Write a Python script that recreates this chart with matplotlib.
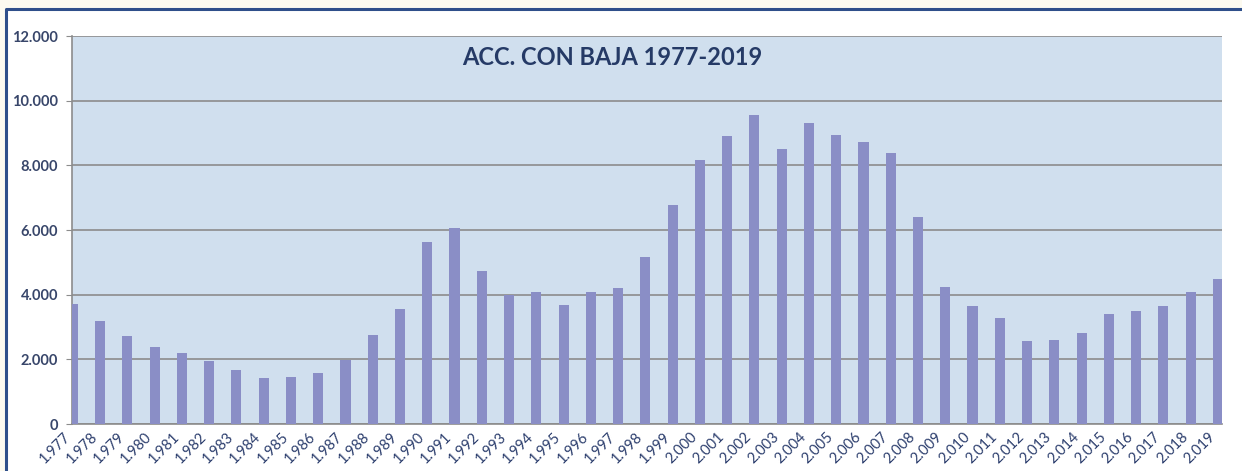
import numpy as np
import matplotlib.pyplot as plt
from matplotlib.patches import Rectangle
from matplotlib.lines import Line2D

plt.rcParams['font.family'] = ['Lato', 'DejaVu Sans']

years = np.arange(1977, 2020)
accidents = [3700, 3180, 2710, 2380, 2195, 1935, 1675, 1420, 1440, 1585,
             1965, 2740, 3545, 5635, 6070, 4730, 4000, 4070, 3690, 4070,
             4220, 5155, 6780, 8170, 8920, 9570, 8510, 9310, 8930, 8720,
             8380, 6400, 4240, 3660, 3280, 2560, 2600, 2810, 3415, 3490,
             3660, 4090, 4470]
year_labels = [f"{y // 1000}.{y % 1000:03d}" for y in years]
y_ticks = np.arange(0, 12001, 2000)
y_labels = ['0' if v == 0 else f"{v // 1000}.{v % 1000:03d}" for v in y_ticks]

fig = plt.figure(figsize=(12.42, 4.71), dpi=100, facecolor='#fcfaf0')
W, H = 1242, 471

# outer white panel with navy border on top and left
fig.patches.append(Rectangle((6 / W, -0.01), 1.0, 1.01 - 9 / H,
                             transform=fig.transFigure, facecolor='white',
                             edgecolor='none', zorder=-5))
fig.lines.append(Line2D([6 / W, 6 / W, 1.01], [-0.01, 1 - 9 / H, 1 - 9 / H],
                        transform=fig.transFigure, color='#2f4f8a',
                        linewidth=2.2, zorder=-4))

ax = fig.add_axes([72 / W, 1 - 424 / H, 1150 / W, 388 / H])
ax.set_zorder(2)
ax.set_facecolor('#d0dfee')

x = np.arange(len(years))
ax.bar(x, accidents, width=0.37, color='#8a8ec6', zorder=3)

ax.set_xlim(-0.03, len(years) - 1 + 0.15)
ax.set_ylim(0, 12000)
ax.set_yticks(y_ticks)
ax.set_yticklabels(y_labels, fontsize=10.5, fontweight='bold', color='#38466a')
ax.set_xticks(x)
ax.set_xticklabels(year_labels, rotation=45, ha='right', fontsize=10.5,
                   color='#2d3f6e')

ax.yaxis.grid(True, color='#8c8c8c', linewidth=1.2, zorder=1)
ax.set_axisbelow(True)
for side in ['top', 'right']:
    ax.spines[side].set_visible(False)
ax.spines['left'].set_color('#8c8c8c')
ax.spines['bottom'].set_color('#8c8c8c')
ax.spines['left'].set_linewidth(1.2)
ax.spines['bottom'].set_linewidth(1.2)
ax.tick_params(axis='y', length=4, color='#8c8c8c', pad=6)
ax.tick_params(axis='x', length=0, pad=4)

ax.text(0.47, 0.945, 'ACC. CON BAJA 1977-2019', transform=ax.transAxes,
        ha='center', va='center', fontsize=17, fontweight='bold',
        color='#253a66')

fig.savefig('out.png', dpi=100, facecolor=fig.get_facecolor())
